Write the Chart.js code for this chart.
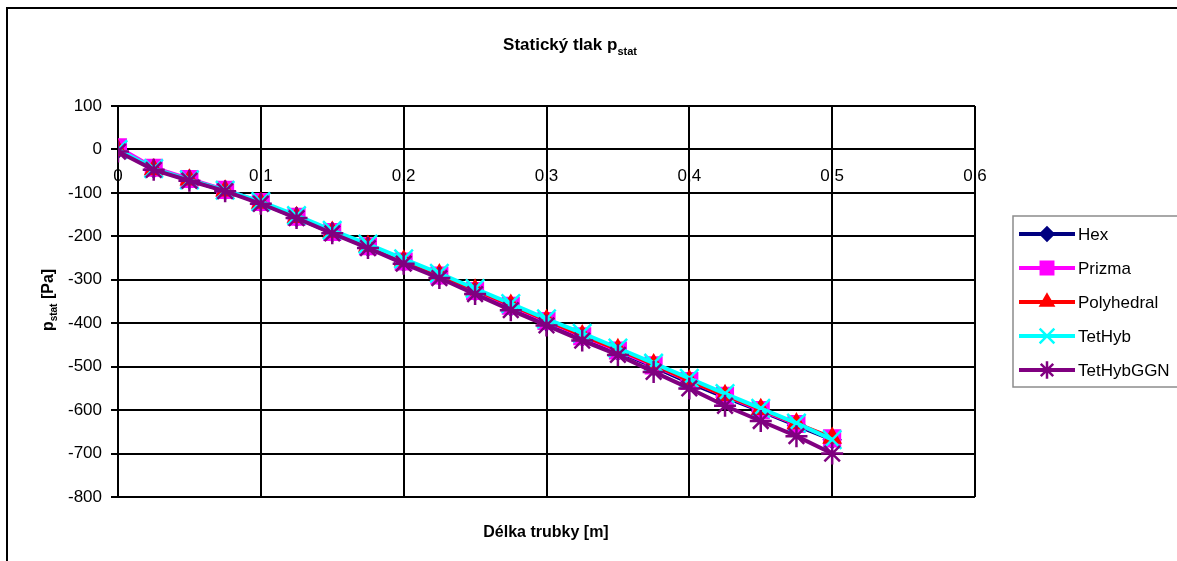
<!DOCTYPE html>
<html>
<head>
<meta charset="utf-8">
<script src="https://cdn.jsdelivr.net/npm/chart.js@4/dist/chart.umd.min.js"></script>
<style>
  body { margin: 0; background: #fff; }
  #wrap { position: relative; width: 1177px; height: 561px; }
</style>
</head>
<body>
<div id="wrap"><canvas id="tlakChart" width="1177" height="561"></canvas></div>
<script>
// delka trubky [m]
const delka = [0, 0.025, 0.05, 0.075, 0.1, 0.125, 0.15, 0.175, 0.2, 0.225, 0.25,
  0.275, 0.3, 0.325, 0.35, 0.375, 0.4, 0.425, 0.45, 0.475, 0.5];

const hex = [0, -45, -70, -95, -123, -157, -192, -225, -260, -292, -328,
  -363, -398, -432, -465, -500, -537, -570, -602, -635, -668];
const prizma = [5, -42, -68, -93, -121, -155, -190, -223, -258, -290, -326,
  -360, -395, -430, -463, -497, -533, -567, -600, -632, -665];
const polyhedral = [-2, -46, -70, -95, -123, -156, -190, -222, -256, -288, -323,
  -358, -393, -428, -460, -495, -532, -566, -598, -631, -664];
const tetHyb = [0, -44, -70, -94, -120, -152, -186, -218, -252, -285, -320,
  -355, -390, -423, -457, -492, -527, -562, -596, -630, -668];
const tetHybGGN = [-5, -47, -72, -96, -125, -158, -193, -227, -263, -296, -333,
  -370, -405, -440, -473, -512, -550, -590, -625, -660, -700];

const seriesNames = ["Hex", "Prizma", "Polyhedral", "TetHyb", "TetHybGGN"];
const xTicks = [0, 0.1, 0.2, 0.3, 0.4, 0.5, 0.6];
const yTicks = [100, 0, -100, -200, -300, -400, -500, -600, -700, -800];

const toPoints = (vals) => vals.map((v, i) => ({ x: delka[i], y: v }));

function makeSet(label, vals, color, style, radius, order) {
  return {
    label: label,
    data: toPoints(vals),
    borderColor: color,
    backgroundColor: color,
    pointBackgroundColor: color,
    pointBorderColor: color,
    borderWidth: 4,
    pointStyle: style,
    pointRadius: radius,
    pointBorderWidth: 2.5,
    order: order
  };
}

const datasets = [
  makeSet(seriesNames[0], hex, "#000080", "rectRot", 8, 5),
  makeSet(seriesNames[1], prizma, "#ff00ff", "rect", 11, 4),
  makeSet(seriesNames[2], polyhedral, "#ff0000", "triangle", 9, 3),
  makeSet(seriesNames[3], tetHyb, "#00ffff", "crossRot", 13, 2),
  makeSet(seriesNames[4], tetHybGGN, "#800080", "star", 11, 1)
];

const fontName = "'Liberation Sans', Arial, sans-serif";

// titles, frame and the excel style legend
const decorPlugin = {
  id: "decor",
  afterDraw(chart) {
    const ctx = chart.ctx;
    ctx.save();
    ctx.strokeStyle = "#000";
    ctx.lineWidth = 2;
    ctx.strokeRect(7, 8, 1300, 700);

    ctx.fillStyle = "#000";
    ctx.textBaseline = "alphabetic";

    // main title with subscript
    ctx.font = "bold 17px " + fontName;
    const t1 = "Statický tlak p";
    const w1 = ctx.measureText(t1).width;
    ctx.font = "bold 11px " + fontName;
    const w2 = ctx.measureText("stat").width;
    let tx = 570 - (w1 + w2) / 2;
    ctx.font = "bold 17px " + fontName;
    ctx.fillText(t1, tx, 50);
    ctx.font = "bold 11px " + fontName;
    ctx.fillText("stat", tx + w1, 55);

    // x title
    ctx.font = "bold 16px " + fontName;
    ctx.textAlign = "center";
    ctx.fillText("Délka trubky [m]", 546, 537);

    // y title rotated
    ctx.save();
    ctx.translate(53, 300);
    ctx.rotate(-Math.PI / 2);
    ctx.textAlign = "left";
    ctx.font = "bold 16px " + fontName;
    const pw = ctx.measureText("p").width;
    const rest = " [Pa]";
    const rw = ctx.measureText(rest).width;
    ctx.font = "bold 10px " + fontName;
    const sw = ctx.measureText("stat").width;
    let yx = -(pw + sw + rw) / 2;
    ctx.font = "bold 16px " + fontName;
    ctx.fillText("p", yx, 0);
    ctx.font = "bold 10px " + fontName;
    ctx.fillText("stat", yx + pw, 4);
    ctx.font = "bold 16px " + fontName;
    ctx.fillText(rest, yx + pw + sw, 0);
    ctx.restore();

    // legend
    ctx.strokeStyle = "#8c8c8c";
    ctx.lineWidth = 1.5;
    ctx.strokeRect(1013, 216, 300, 171);
    ctx.textAlign = "left";
    ctx.textBaseline = "middle";
    ctx.font = "17px " + fontName;
    chart.data.datasets.forEach((ds, i) => {
      const ly = 234 + i * 34;
      ctx.strokeStyle = ds.borderColor;
      ctx.lineWidth = 4;
      ctx.beginPath();
      ctx.moveTo(1019, ly);
      ctx.lineTo(1075, ly);
      ctx.stroke();
      ctx.fillStyle = ds.pointBackgroundColor;
      ctx.strokeStyle = ds.pointBorderColor;
      ctx.lineWidth = ds.pointBorderWidth;
      Chart.helpers.drawPoint(ctx, {
        pointStyle: ds.pointStyle,
        radius: ds.pointRadius * 0.8,
        rotation: 0,
        borderWidth: ds.pointBorderWidth
      }, 1047, ly);
      ctx.fillStyle = "#000";
      ctx.fillText(ds.label, 1078, ly + 1);
    });
    ctx.restore();
  }
};

const ctx = document.getElementById("tlakChart").getContext("2d");
const tlakChart = new Chart(ctx, {
  type: "line",
  data: { datasets: datasets },
  options: {
    responsive: false,
    animation: false,
    layout: { padding: { left: 0, top: 106, right: 202, bottom: 64 } },
    elements: { line: { tension: 0 } },
    plugins: {
      legend: { display: false },
      tooltip: { enabled: false }
    },
    scales: {
      x: {
        type: "linear",
        position: { y: 0 },
        min: 0,
        max: 0.6,
        afterBuildTicks: (scale) => {
          scale.ticks = xTicks.map((v) => ({ value: v }));
        },
        ticks: {
          color: "#000",
          font: { family: fontName, size: 17 },
          padding: 17,
          maxRotation: 0,
          autoSkip: false,
          callback: (v) => (v === 0 ? "0" : v.toFixed(1).replace(".", ","))
        },
        grid: { color: "#000", lineWidth: 2, drawTicks: false },
        border: { color: "#000", width: 2 }
      },
      y: {
        type: "linear",
        position: "left",
        min: -800,
        max: 100,
        afterBuildTicks: (scale) => {
          scale.ticks = yTicks.map((v) => ({ value: v }));
        },
        afterFit: (scale) => {
          scale.width = 118;
        },
        ticks: {
          color: "#000",
          font: { family: fontName, size: 17 },
          padding: 9,
          autoSkip: false
        },
        grid: { color: "#000", lineWidth: 2, tickLength: 7 },
        border: { color: "#000", width: 2 }
      }
    }
  },
  plugins: [decorPlugin]
});
</script>
</body>
</html>
